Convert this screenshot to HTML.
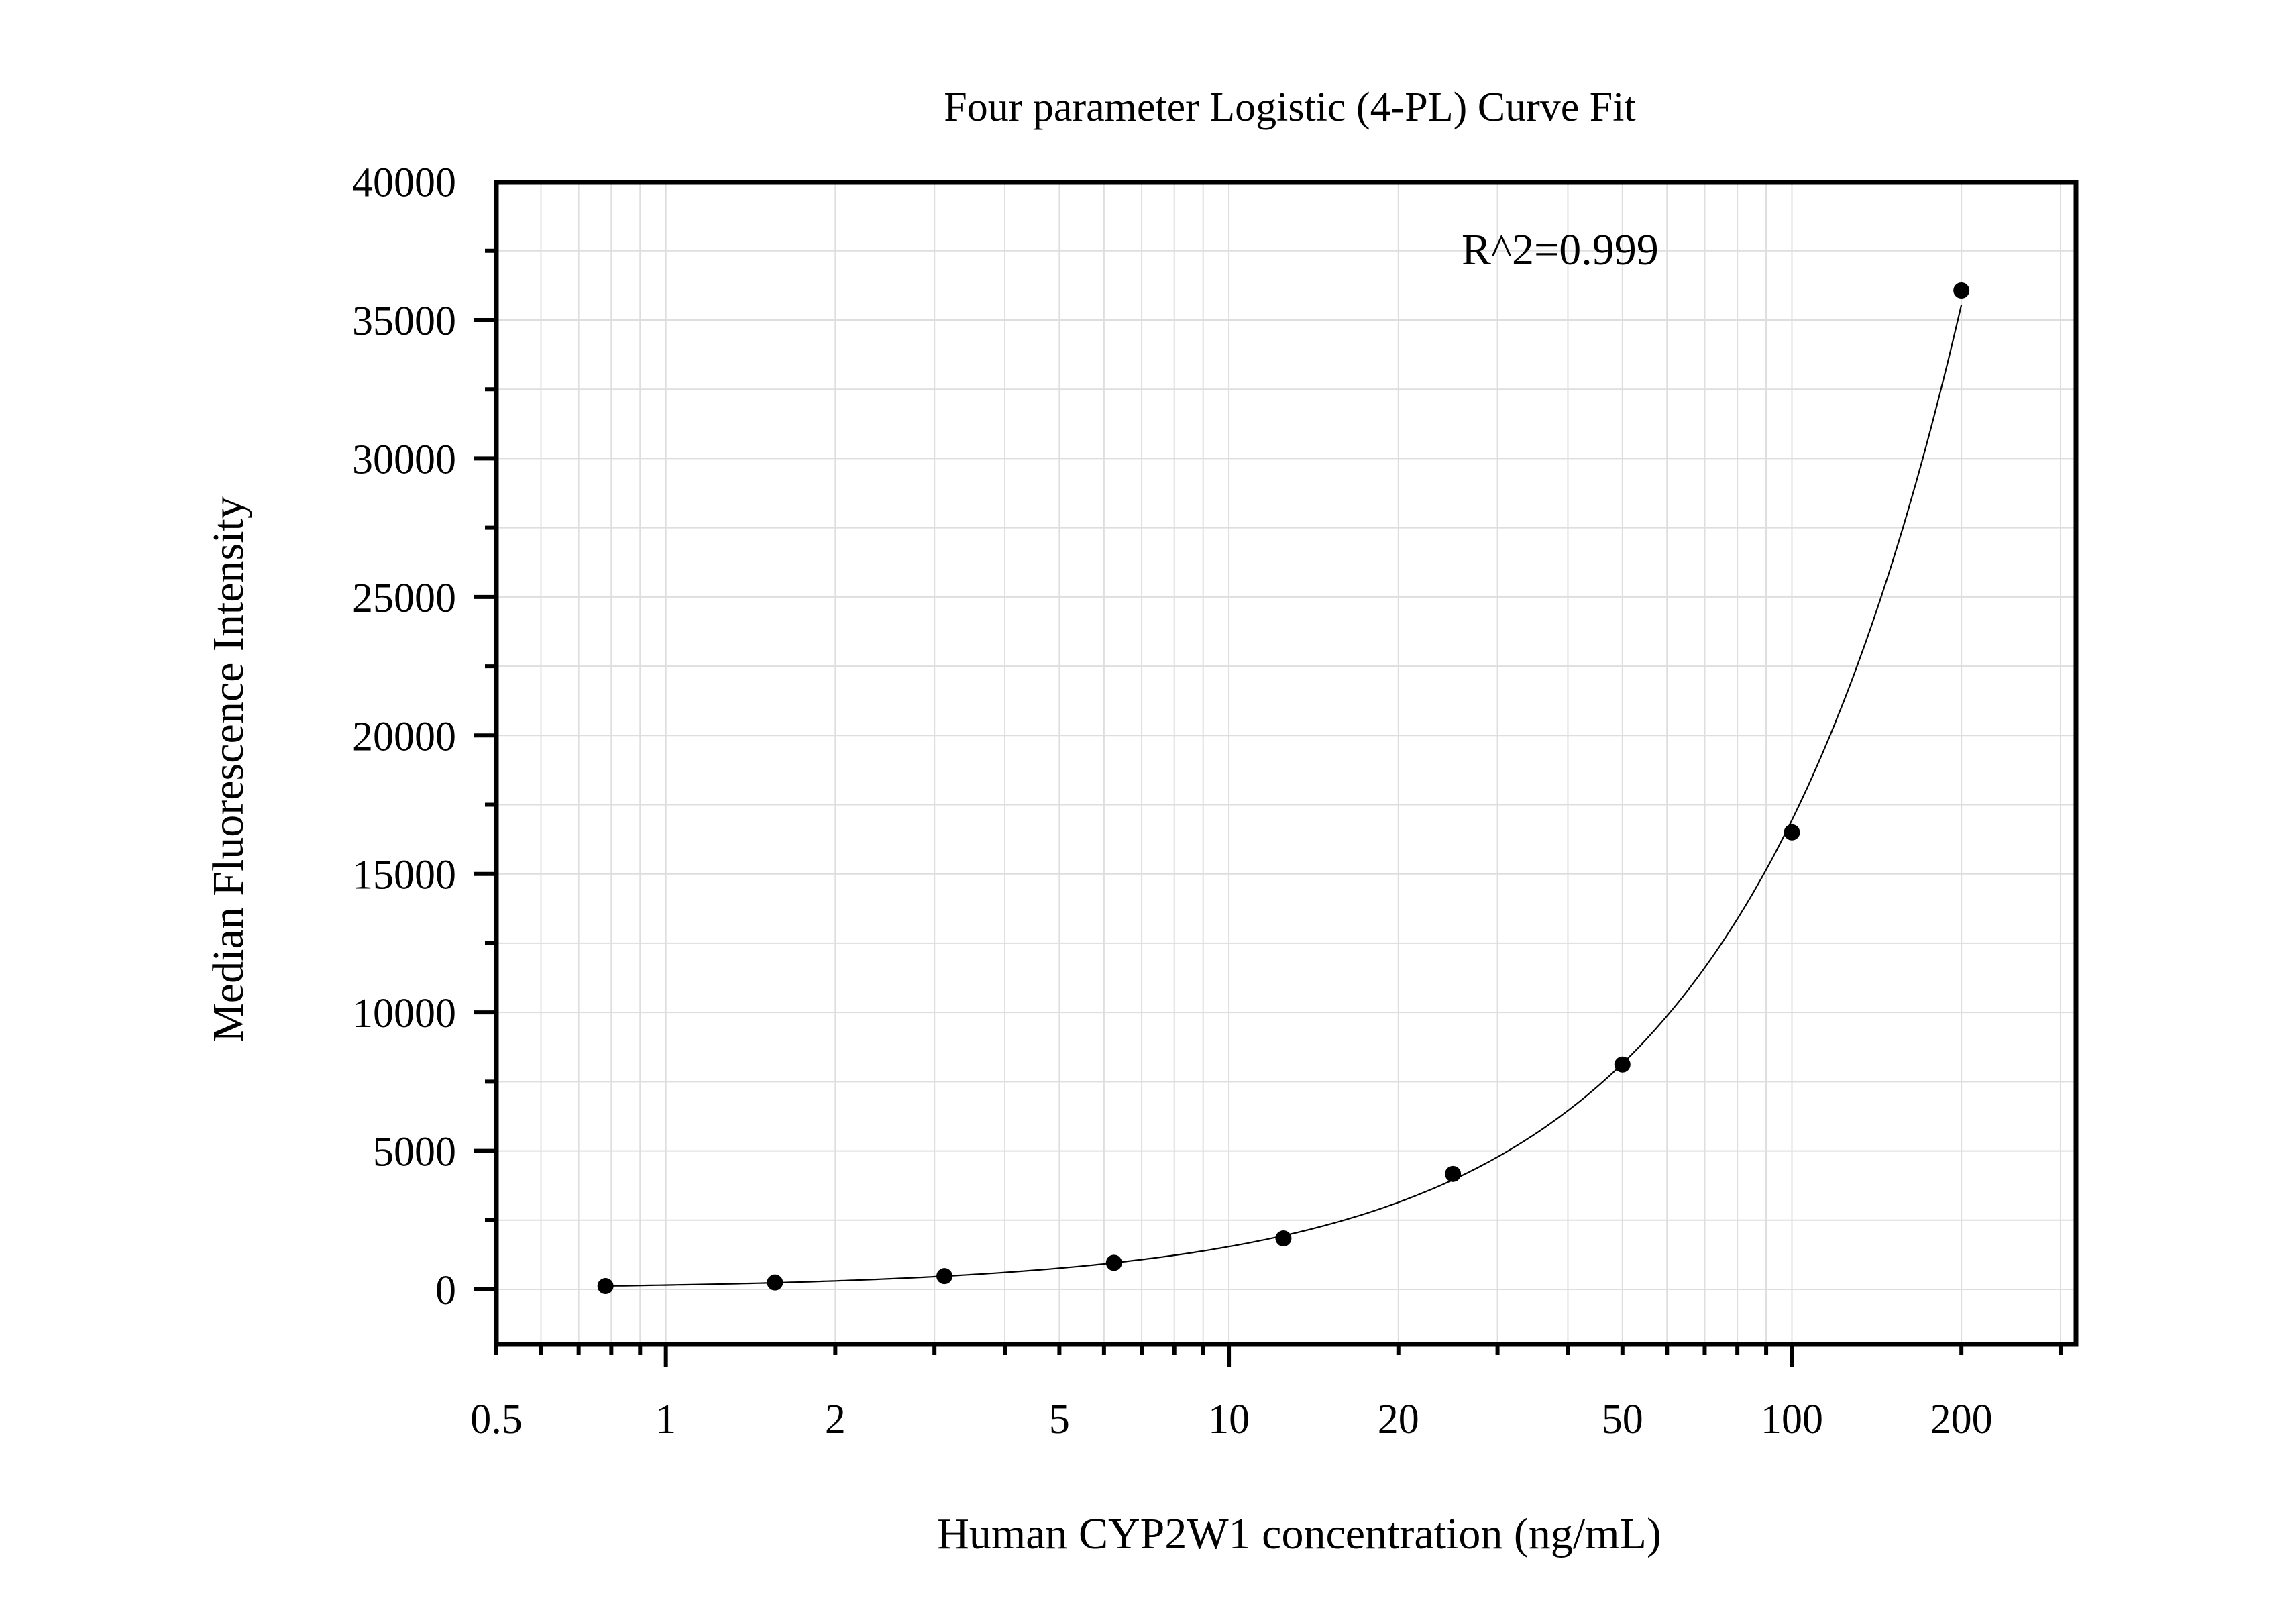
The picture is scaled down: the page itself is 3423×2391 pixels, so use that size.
<!DOCTYPE html>
<html><head><meta charset="utf-8"><style>
html,body{margin:0;padding:0;background:#fff;}
svg{display:block;font-family:"Liberation Serif",serif;}
</style></head><body>
<svg id="chart" width="3423" height="2391" viewBox="0 0 3423 2391" xmlns="http://www.w3.org/2000/svg">
<rect width="3423" height="2391" fill="#fff"/>
<g id="grid"></g>
<g id="curve-g"></g>
<g id="points"></g>
<g id="axes"></g>
<text x="1923" y="180" font-size="62" text-anchor="middle">Four parameter Logistic (4-PL) Curve Fit</text>
<text x="2179" y="394" font-size="66">R^2=0.999</text>
<text x="1937" y="2308" font-size="66" text-anchor="middle">Human CYP2W1 concentration (ng/mL)</text>
<text transform="translate(362,1147) rotate(-90)" font-size="66" text-anchor="middle">Median Fluorescence Intensity</text>
</svg>
<script>
const concentrations = [0.78125, 1.5625, 3.125, 6.25, 12.5, 25, 50, 100, 200];
const mfiValues = [120, 250, 480, 960, 1840, 4170, 8120, 16500, 36066];
const xTickValues = [0.5, 1, 2, 5, 10, 20, 50, 100, 200];
const xTickLabels = ["0.5", "1", "2", "5", "10", "20", "50", "100", "200"];
const yTickValues = [0, 5000, 10000, 15000, 20000, 25000, 30000, 35000, 40000];
const yTickLabels = ["0", "5000", "10000", "15000", "20000", "25000", "30000", "35000", "40000"];

const NS = "http://www.w3.org/2000/svg";
const L = 740, R = 3095, T = 272, B = 2004;
const xMin = 0.5, decPx = 839.4;
const y0px = 1922, yPer = 0.041286;
function xs(v){ return L + decPx * Math.log10(v / xMin); }
function ys(v){ return y0px - yPer * v; }
function mk(tag, attrs, parent){
  const e = document.createElementNS(NS, tag);
  for (const k in attrs) e.setAttribute(k, attrs[k]);
  parent.appendChild(e); return e;
}
const grid = document.getElementById('grid');
const axes = document.getElementById('axes');

// minor x positions
const xMinor = [];
for (const base of [0.1, 1, 10, 100]) for (let m = 1; m <= 9; m++) {
  const v = +(base * m).toPrecision(3);
  if (v >= xMin && xs(v) <= R) xMinor.push(v);
}
xMinor.forEach(v => {
  const x = xs(v);
  const g = mk('line', {x1:x, x2:x, y1:T, y2:B, stroke:'#dedede', 'stroke-width':2}, grid);
  
  
  const major = Math.abs(Math.log10(v) - Math.round(Math.log10(v))) < 1e-9;
  const t = mk('line', {x1:x, x2:x, y1:B, y2:B + (major ? 34 : 16), stroke:'#000', 'stroke-width':6}, axes);
  
  
});
for (let v = -2500; v <= 40000; v += 2500) {
  const y = ys(v);
  if (y < T - 1 || y > B) continue;
  const g = mk('line', {x1:L, x2:R, y1:y, y2:y, stroke:'#dedede', 'stroke-width':2}, grid);
  
  
  const major = v % 5000 === 0;
  const t = mk('line', {x1:L - (major ? 34 : 17), x2:L, y1:y, y2:y, stroke:'#000', 'stroke-width':6}, axes);
  
  
}
xTickValues.forEach((v, i) => {
  const t = mk('text', {x:xs(v), y:2136, 'font-size':62, 'text-anchor':'middle'}, axes);
  t.textContent = xTickLabels[i];
  
  
});
yTickValues.forEach((v, i) => {
  const t = mk('text', {x:680, y:ys(v) + 22, 'font-size':62, 'text-anchor':'end'}, axes);
  t.textContent = yTickLabels[i];
  
  
});
const frame = mk('rect', {x:L, y:T, width:R - L, height:B - T, fill:'none', stroke:'#000', 'stroke-width':7}, axes);



// fit: quadratic in log-log space (least squares)
const X = concentrations.map(Math.log10), Y = mfiValues.map(Math.log10);
function fit(){
  const n = X.length; let S = [[0,0,0],[0,0,0],[0,0,0]], b = [0,0,0];
  for (let i = 0; i < n; i++){ const p = [1, X[i], X[i]*X[i]];
    for (let r = 0; r < 3; r++){ b[r] += p[r]*Y[i]; for (let c = 0; c < 3; c++) S[r][c] += p[r]*p[c]; } }
  for (let i = 0; i < 3; i++){ for (let j = i+1; j < 3; j++){ const f = S[j][i]/S[i][i];
    for (let k = i; k < 3; k++) S[j][k] -= f*S[i][k]; b[j] -= f*b[i]; } }
  const c = [0,0,0];
  for (let i = 2; i >= 0; i--){ let s = b[i]; for (let k = i+1; k < 3; k++) s -= S[i][k]*c[k]; c[i] = s/S[i][i]; }
  return c;
}
const coef = fit();
let d = '';
const lo = Math.log10(concentrations[0]), hi = Math.log10(concentrations[concentrations.length-1]);
for (let i = 0; i <= 300; i++){
  const lx = lo + (hi - lo) * i / 300;
  const ly = coef[0] + coef[1]*lx + coef[2]*lx*lx;
  d += (i ? 'L' : 'M') + xs(Math.pow(10, lx)).toFixed(1) + ' ' + ys(Math.pow(10, ly)).toFixed(1);
}
const curve = mk('path', {d:d, fill:'none', stroke:'#000', 'stroke-width':2.2}, document.getElementById('curve-g'));



const pts = document.getElementById('points');
concentrations.forEach((c, i) => {
  const p = mk('circle', {cx:xs(c), cy:ys(mfiValues[i]), r:12, fill:'#000'}, pts);
  
  
});
</script>
</body></html>
